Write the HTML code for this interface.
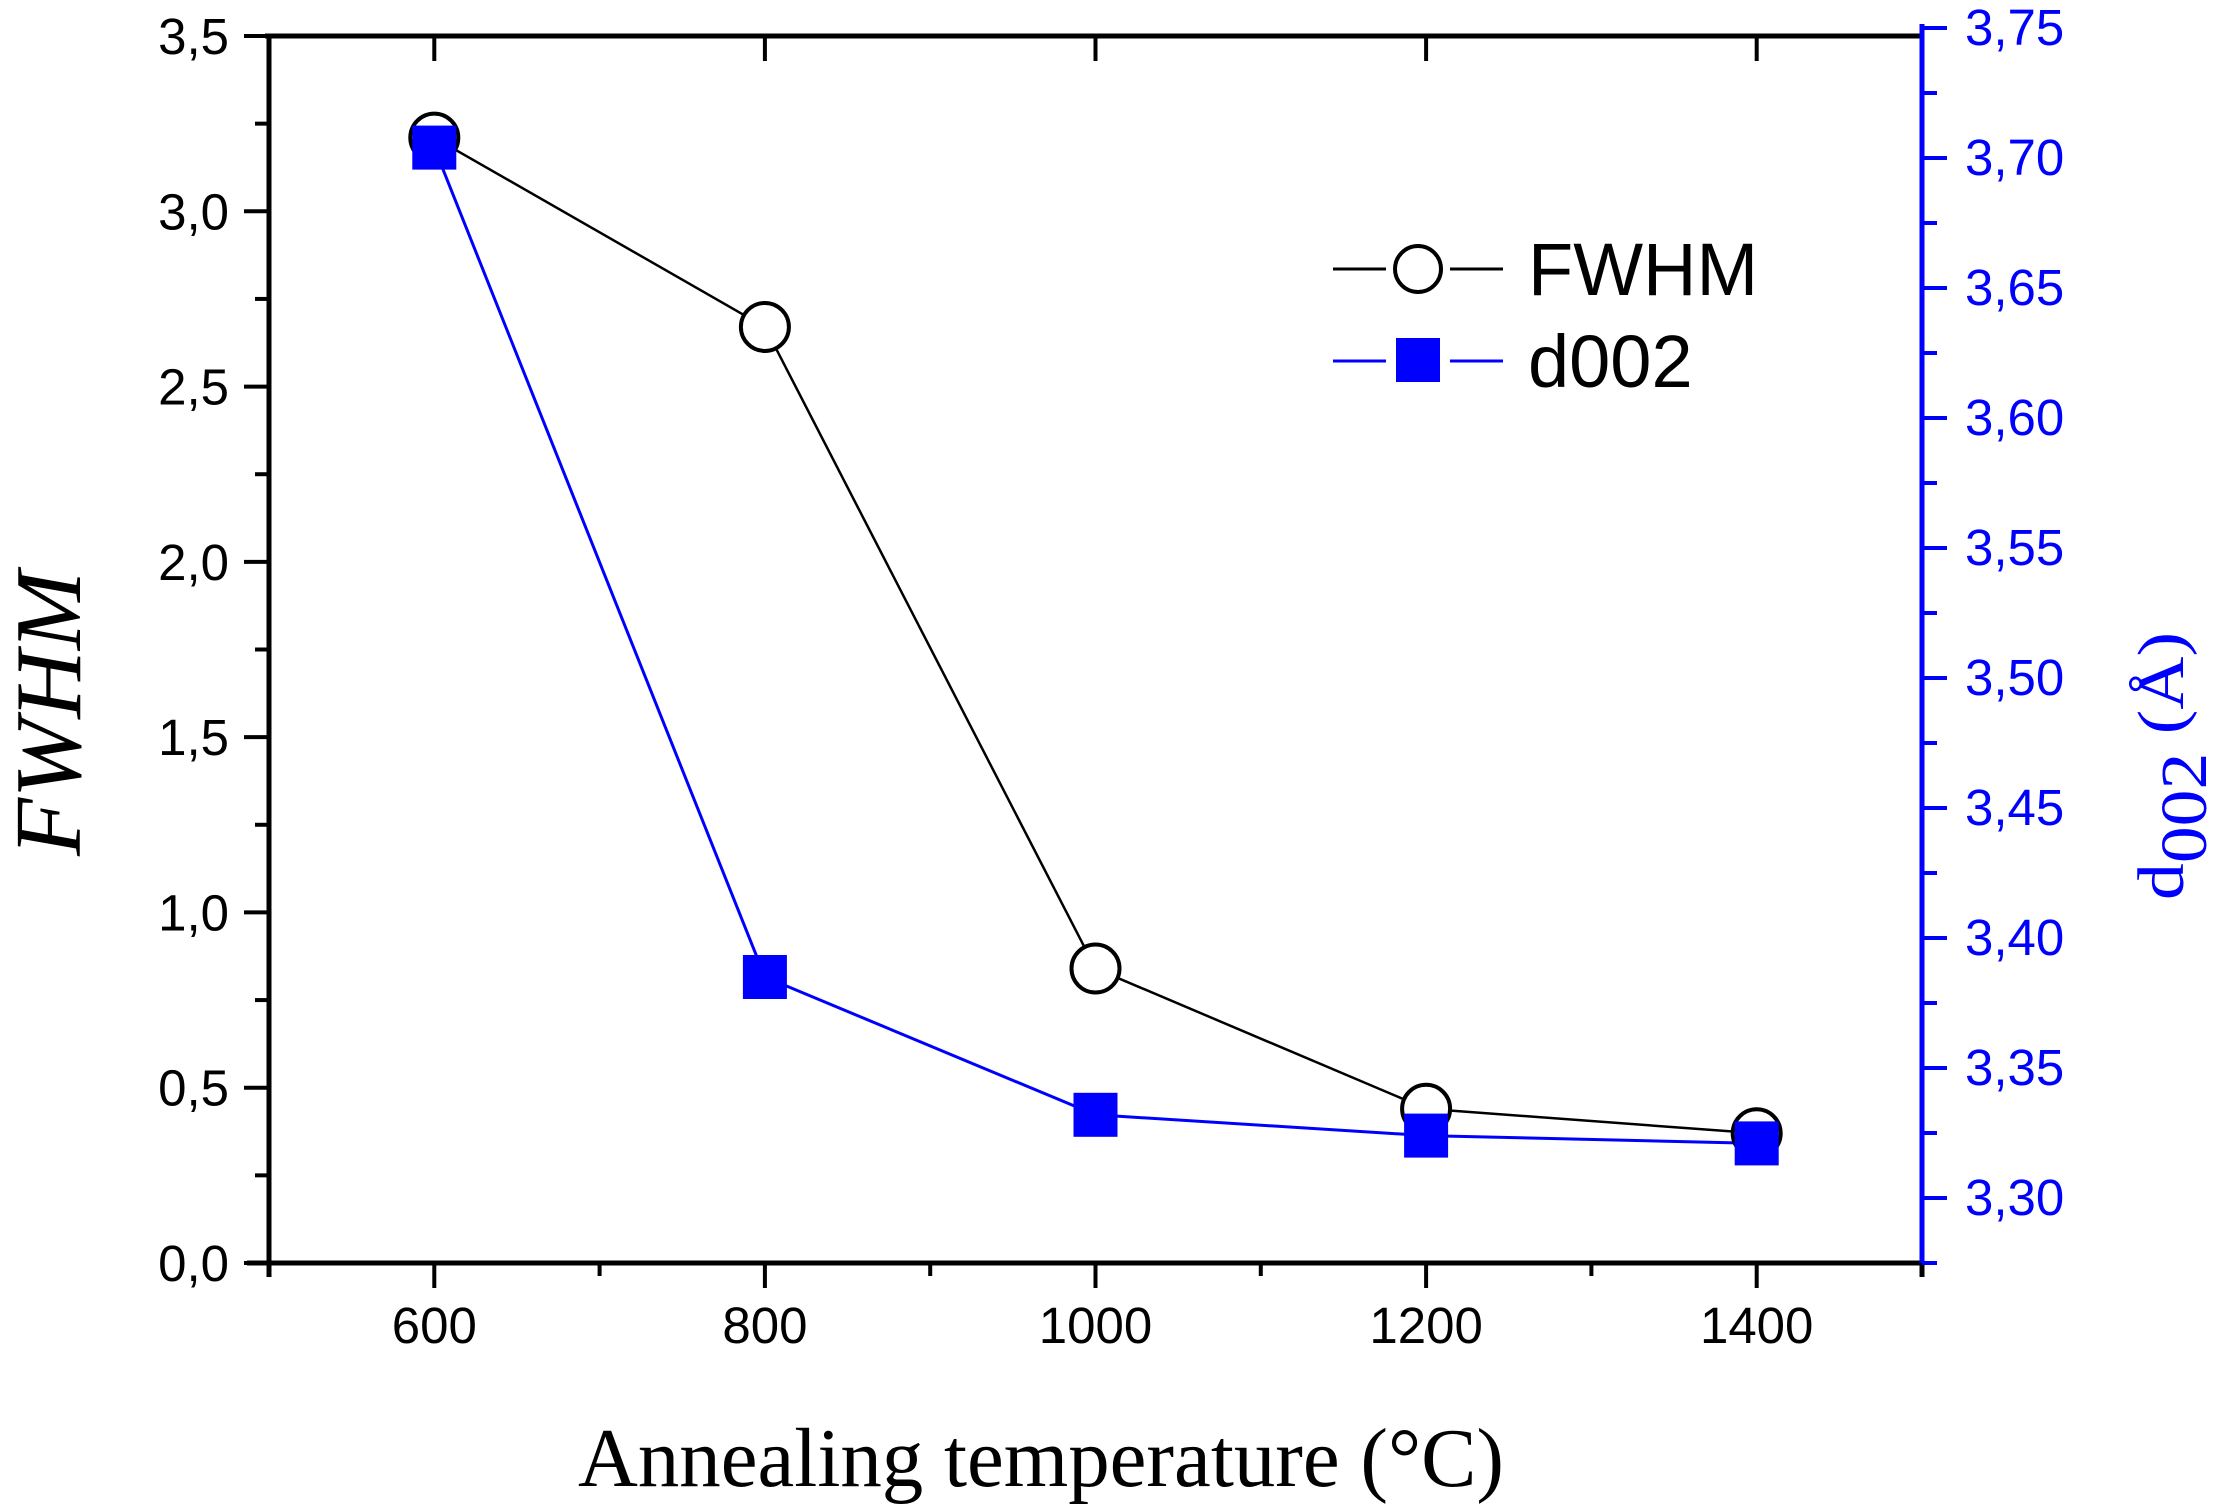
<!DOCTYPE html>
<html><head><meta charset="utf-8"><style>html,body{margin:0;padding:0;background:#fff}svg{display:block}</style></head>
<body>
<svg id="chart" xmlns="http://www.w3.org/2000/svg" width="2225" height="1508" viewBox="0 0 2225 1508">
<g id="axes"></g>
<g id="series"></g>
<g id="legend">
  <line x1="1333" y1="269" x2="1386" y2="269" stroke="#000" stroke-width="3"/>
  <line x1="1450" y1="269" x2="1503" y2="269" stroke="#000" stroke-width="3"/>
  <circle cx="1418" cy="269" r="23" fill="#fff" stroke="#000" stroke-width="4"/>
  <text x="1528" y="295" font-family="Liberation Sans, sans-serif" font-size="74">FWHM</text>
  <line x1="1333" y1="361" x2="1386" y2="361" stroke="#0000ff" stroke-width="3"/>
  <line x1="1450" y1="361" x2="1503" y2="361" stroke="#0000ff" stroke-width="3"/>
  <rect x="1396" y="338" width="44" height="44" fill="#0000ff"/>
  <text x="1528" y="387" font-family="Liberation Sans, sans-serif" font-size="74">d002</text>
</g>
<text x="578" y="1486" textLength="926" lengthAdjust="spacingAndGlyphs" font-family="Liberation Serif, serif" font-size="84">Annealing temperature (°C)</text>
<text transform="translate(80,856) rotate(-90)" textLength="285" lengthAdjust="spacingAndGlyphs" font-family="Liberation Serif, serif" font-style="italic" font-size="94">FWHM</text>
<text transform="translate(2183,900) rotate(-90)" textLength="268" lengthAdjust="spacingAndGlyphs" font-family="Liberation Serif, serif" font-size="66" fill="#0000ff">d<tspan dy="23">002</tspan><tspan dy="-23"> (Å)</tspan></text>
</svg>
<script>
const temps = [600, 800, 1000, 1200, 1400];
const fwhm = [3.21, 2.67, 0.84, 0.44, 0.37];
const d002 = [3.704, 3.385, 3.332, 3.324, 3.321];
const xTicks = [600, 800, 1000, 1200, 1400];
const xTickLabels = ["600", "800", "1000", "1200", "1400"];
const yLeftTicks = [0, 0.5, 1.0, 1.5, 2.0, 2.5, 3.0, 3.5];
const yLeftLabels = ["0,0", "0,5", "1,0", "1,5", "2,0", "2,5", "3,0", "3,5"];
const yRightTicks = [3.30, 3.35, 3.40, 3.45, 3.50, 3.55, 3.60, 3.65, 3.70, 3.75];
const yRightLabels = ["3,30", "3,35", "3,40", "3,45", "3,50", "3,55", "3,60", "3,65", "3,70", "3,75"];

const L = 269, R = 1922, T = 36, B = 1263;
const X = v => L + (v - 500) * (R - L) / 1000;
const YL = v => B - v * (B - T) / 3.5;
const YR = v => 1198 - (v - 3.30) * 2600;
const NS = "http://www.w3.org/2000/svg";
function mk(tag, attrs, parent) {
  const e = document.createElementNS(NS, tag);
  for (const k in attrs) e.setAttribute(k, attrs[k]);
  parent.appendChild(e);
  return e;
}
const ax = document.getElementById('axes');
const se = document.getElementById('series');

let e;
e = mk('line', {x1: L - 4, y1: T, x2: R, y2: T, stroke: '#000', 'stroke-width': 5}, ax);


e = mk('line', {x1: L, y1: T - 2, x2: L, y2: B + 14, stroke: '#000', 'stroke-width': 5}, ax);


e = mk('line', {x1: L - 22, y1: B, x2: R, y2: B, stroke: '#000', 'stroke-width': 5}, ax);


e = mk('line', {x1: R, y1: B + 14, x2: R, y2: B - 2, stroke: '#000', 'stroke-width': 5}, ax);


e = mk('line', {x1: R, y1: YR(3.75) - 4, x2: R, y2: B, stroke: '#0000ff', 'stroke-width': 5}, ax);



for (let v = 500; v <= 1500; v += 100) {
  const major = xTicks.includes(v);
  e = mk('line', {x1: X(v), y1: B, x2: X(v), y2: B + (major ? 25 : 13), stroke: '#000', 'stroke-width': 4}, ax);
  
  
  if (major) {
    e = mk('line', {x1: X(v), y1: T, x2: X(v), y2: T + 25, stroke: '#000', 'stroke-width': 4}, ax);
    
    
  }
}
xTicks.forEach((v, i) => {
  e = mk('text', {x: X(v), y: 1343, 'text-anchor': 'middle', 'font-family': 'Liberation Sans, sans-serif', 'font-size': 51}, ax);
  e.textContent = xTickLabels[i];
  
  
});
for (let k = 0; k <= 14; k++) {
  const v = k * 0.25, major = k % 2 === 0;
  e = mk('line', {x1: L, y1: YL(v), x2: L - (major ? 25 : 14), y2: YL(v), stroke: '#000', 'stroke-width': 4}, ax);
  
  
}
yLeftTicks.forEach((v, i) => {
  e = mk('text', {x: 229, y: YL(v) + 18, 'text-anchor': 'end', 'font-family': 'Liberation Sans, sans-serif', 'font-size': 51}, ax);
  e.textContent = yLeftLabels[i];
  
  
});
for (let k = 0; k <= 19; k++) {
  const v = 3.275 + k * 0.025, major = k % 2 === 1;
  e = mk('line', {x1: R, y1: YR(v), x2: R + (major ? 25 : 15), y2: YR(v), stroke: '#0000ff', 'stroke-width': 4}, ax);
  
  
}
yRightTicks.forEach((v, i) => {
  e = mk('text', {x: 1965, y: YR(v) + 17, 'font-family': 'Liberation Sans, sans-serif', 'font-size': 51, fill: '#0000ff'}, ax);
  e.textContent = yRightLabels[i];
  
  
});

e = mk('polyline', {points: temps.map((t, i) => X(t) + ',' + YL(fwhm[i])).join(' '), fill: 'none', stroke: '#000', 'stroke-width': 2.5}, se);


e = mk('polyline', {points: temps.map((t, i) => X(t) + ',' + YR(d002[i])).join(' '), fill: 'none', stroke: '#0000ff', 'stroke-width': 3}, se);


temps.forEach((t, i) => {
  e = mk('circle', {cx: X(t), cy: YL(fwhm[i]), r: 24, fill: '#fff', stroke: '#000', 'stroke-width': 4}, se);
  
  
});
temps.forEach((t, i) => {
  e = mk('rect', {x: X(t) - 22, y: YR(d002[i]) - 22, width: 44, height: 44, fill: '#0000ff'}, se);
  
  
});
</script>
</body></html>
